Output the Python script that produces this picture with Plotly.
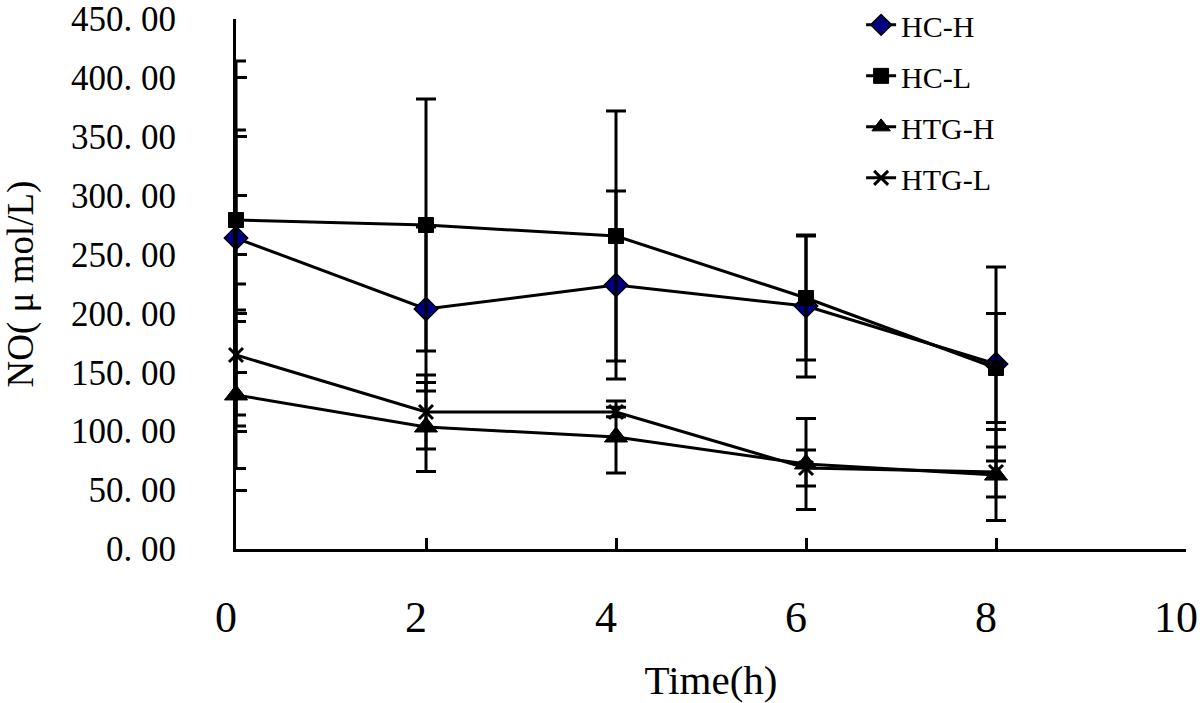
import plotly.graph_objects as go

# ---- data ----
time_h = [0, 2, 4, 6, 8]

hc_h = [264.0, 203.8, 224.1, 206.3, 157.1]
hc_h_err = [150.3, 69.6, 79.8, 60.3, 82.4]

hc_l = [279.3, 275.1, 265.7, 213.1, 153.7]
hc_l_err = [76.4, 107.0, 106.1, 52.6, 46.3]

htg_h = [130.8, 103.6, 95.1, 72.2, 62.8]
htg_h_err = [62.4, 37.8, 30.6, 38.6, 38.6]

htg_l = [164.7, 116.3, 116.3, 68.8, 65.4]
htg_l_err = [60.3, 31.4, 4.0, 15.3, 21.2]

y_tick_vals = [0, 50, 100, 150, 200, 250, 300, 350, 400, 450]
y_tick_text = ["0. 00", "50. 00", "100. 00", "150. 00", "200. 00", "250. 00",
               "300. 00", "350. 00", "400. 00", "450. 00"]
x_tick_vals = [0, 2, 4, 6, 8, 10]
x_tick_text = ["0", "2", "4", "6", "8", "10"]

series = [
    ("HC-H", hc_h, hc_h_err, dict(symbol="diamond", size=18, color="#000080",
                                  line=dict(color="black", width=1.5))),
    ("HC-L", hc_l, hc_l_err, dict(symbol="square", size=15, color="black",
                                  line=dict(color="black", width=1))),
    ("HTG-H", htg_h, htg_h_err, dict(symbol="triangle-up", size=20, color="black",
                                     line=dict(color="black", width=1))),
    ("HTG-L", htg_l, htg_l_err, dict(symbol="x-thin", size=14, color="black",
                                     line=dict(color="black", width=3))),
]

FONT = "Liberation Serif"

fig = go.Figure()
for name, vals, errs, marker in series:
    fig.add_trace(go.Scatter(
        x=time_h, y=vals, name=name, mode="lines+markers",
        line=dict(color="black", width=3),
        marker=marker,
        error_y=dict(type="data", array=errs, symmetric=True, visible=True,
                     color="black", thickness=3, width=10),
        cliponaxis=False,
        legendgroup=name,
    ))

fig.update_layout(
    width=1200, height=703,
    paper_bgcolor="white", plot_bgcolor="white",
    margin=dict(l=236, r=14, t=19, b=154, autoexpand=False),
    font=dict(family=FONT, color="black"),
    showlegend=True,
    legend=dict(x=0.658, y=1.038, xanchor="left", yanchor="top",
                font=dict(family=FONT, size=30, color="black"),
                bgcolor="rgba(0,0,0,0)", tracegroupgap=9,
                itemwidth=30),
)

fig.update_xaxes(
    range=[0, 10], tickvals=x_tick_vals, ticktext=x_tick_text,
    showline=True, linecolor="black", linewidth=3, mirror=False,
    ticks="inside", ticklen=11, tickwidth=3, tickcolor="black",
    showgrid=False, zeroline=False,
    tickfont=dict(family=FONT, size=44, color="black"),
    ticklabelstandoff=27, ticklabelshift=-10, ticklabeloverflow="allow",
    title=dict(text="Time(h)", font=dict(family=FONT, size=41, color="black"),
               standoff=40),
    automargin=False,
)
fig.update_yaxes(
    range=[0, 450], tickvals=y_tick_vals, ticktext=y_tick_text,
    showline=True, linecolor="black", linewidth=3, mirror=False,
    ticks="inside", ticklen=11, tickwidth=3, tickcolor="black",
    showgrid=False, zeroline=False,
    tickfont=dict(family=FONT, size=35, color="black"),
    ticklabelstandoff=50, ticklabeloverflow="allow",
    title=dict(text="NO( μ mol/L)",
               font=dict(family=FONT, size=37, color="black"),
               standoff=30),
    automargin=False,
)

# remove the default 8px page margin so the figure sits at the window's corner
fig.write_html("out.html",
               config={"displayModeBar": False},
               post_script="document.body.style.margin='0';document.body.style.overflow='hidden';")
